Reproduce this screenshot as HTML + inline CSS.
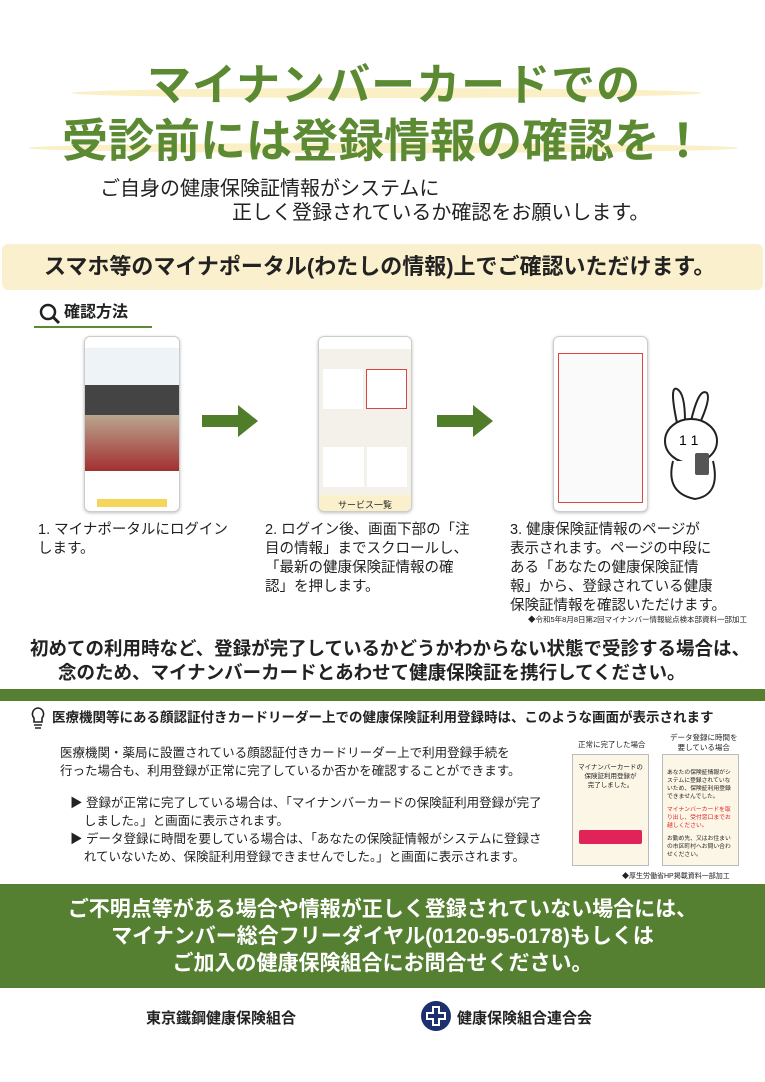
<!DOCTYPE html>
<html><head><meta charset="utf-8"><style>
*{margin:0;padding:0;box-sizing:border-box}
body{width:765px;height:1082px;background:#fff;position:relative;overflow:hidden;font-family:"Liberation Sans","Noto Sans CJK JP",sans-serif;color:#222}
.a{position:absolute;white-space:nowrap}
.g{background:#557f31}
.hl{position:absolute;height:10px;border-radius:50%;background:#fbefc6}
.ph{position:absolute;background:#fff;border:1px solid #ccc;border-radius:6px;box-shadow:0 1px 3px rgba(0,0,0,.25);overflow:hidden}
.arrow{position:absolute;width:56px;height:32px}
.t{font-size:14.5px;line-height:19px;color:#222}
</style></head><body>
<div class="hl" style="left:72px;top:88px;width:630px"></div>
<div class="hl" style="left:28px;top:143px;width:710px"></div>
<div class="a" style="left:147px;top:58px;font-size:44px;font-weight:bold;color:#5b8a32;letter-spacing:1px;line-height:56px">マイナンバーカードでの</div>
<div class="a" style="left:62px;top:112px;font-size:46px;font-weight:bold;color:#5b8a32;line-height:58px">受診前には登録情報の確認を！</div>
<div class="a" style="left:100px;top:176px;font-size:20px;line-height:26px">ご自身の健康保険証情報がシステムに</div>
<div class="a" style="left:232px;top:200px;font-size:20px;line-height:26px">正しく登録されているか確認をお願いします。</div>
<div class="a" style="left:2px;top:244px;width:761px;height:46px;background:#fbf0cd;border-radius:6px"></div>
<div class="a" style="left:44px;top:253px;font-size:22px;font-weight:bold;line-height:28px">スマホ等のマイナポータル(わたしの情報)上でご確認いただけます。</div>
<svg class="a" style="left:38px;top:302px" width="24" height="24"><circle cx="10" cy="10" r="7" fill="none" stroke="#222" stroke-width="2.5"/><line x1="15" y1="15" x2="21" y2="21" stroke="#222" stroke-width="3"/></svg>
<div class="a" style="left:64px;top:302px;font-size:16px;font-weight:bold;line-height:22px">確認方法</div>
<div class="a" style="left:34px;top:326px;width:118px;height:2px;background:#5b8a32"></div>

<div class="ph" style="left:84px;top:336px;width:96px;height:176px">
 <div style="height:12px;border-bottom:1px solid #eee"></div>
 <div style="height:36px;background:#eef3f8"></div>
 <div style="height:30px;background:#444"></div>
 <div style="height:56px;background:linear-gradient(#b9a68f,#a23030)"></div>
 <div style="height:28px;background:#fff"></div>
 <div style="height:8px;background:#f5d65a;margin:0 12px"></div>
</div>
<div class="ph" style="left:318px;top:336px;width:94px;height:176px;background:#f3f1ea">
 <div style="height:12px;background:#fff"></div>
 <div style="margin:20px 4px 0;height:40px;display:flex;gap:3px"><div style="flex:1;background:#fff"></div><div style="flex:1;background:#fff;border:1.5px solid #d44"></div></div>
 <div style="margin:38px 4px 0;height:40px;display:flex;gap:3px"><div style="flex:1;background:#fff"></div><div style="flex:1;background:#fff"></div></div>
 <div style="margin-top:8px;height:20px;background:#faf1cc;font-size:9px;text-align:center;line-height:20px">サービス一覧</div>
</div>
<div class="ph" style="left:553px;top:336px;width:95px;height:176px">
 <div style="height:12px"></div>
 <div style="margin:4px 4px;height:150px;border:1.5px solid #d44;background:#fafafa"></div>
</div>
<svg class="arrow" style="left:202px;top:405px" viewBox="0 0 56 32"><polygon points="0,10 36,10 36,0 56,16 36,32 36,22 0,22" fill="#4f7d2a"/></svg>
<svg class="arrow" style="left:437px;top:405px" viewBox="0 0 56 32"><polygon points="0,10 36,10 36,0 56,16 36,32 36,22 0,22" fill="#4f7d2a"/></svg>
<svg class="a" style="left:655px;top:383px" width="80" height="120"><path d="M22 40 Q14 2 22 6 Q30 10 30 38 M36 38 Q44 4 52 10 Q56 16 44 42" fill="#fff" stroke="#222" stroke-width="2"/><ellipse cx="36" cy="58" rx="26" ry="22" fill="#fff" stroke="#222" stroke-width="2"/><path d="M18 78 Q10 110 40 116 Q66 112 58 78" fill="#fff" stroke="#222" stroke-width="2"/><rect x="40" y="70" width="14" height="22" rx="2" fill="#555"/><text x="24" y="62" font-size="14">1 1</text></svg>

<div class="a t" style="left:38px;top:521px">1. マイナポータルにログイン<br>します。</div>
<div class="a t" style="left:265px;top:521px">2. ログイン後、画面下部の「注<br>目の情報」までスクロールし、<br>「最新の健康保険証情報の確<br>認」を押します。</div>
<div class="a t" style="left:510px;top:521px">3. 健康保険証情報のページが<br>表示されます。ページの中段に<br>ある「あなたの健康保険証情<br>報」から、登録されている健康<br>保険証情報を確認いただけます。</div>
<div class="a" style="left:528px;top:614px;font-size:7.5px">◆令和5年8月8日第2回マイナンバー情報総点検本部資料一部加工</div>
<div class="a" style="left:30px;top:636px;font-size:18.5px;font-weight:bold;line-height:25px">初めての利用時など、登録が完了しているかどうかわからない状態で受診する場合は、</div>
<div class="a" style="left:58px;top:660px;font-size:18.5px;font-weight:bold;line-height:25px">念のため、マイナンバーカードとあわせて健康保険証を携行してください。</div>
<div class="a g" style="left:0;top:689px;width:765px;height:12px"></div>
<svg class="a" style="left:30px;top:706px" width="16" height="24"><path d="M8 2a6 6 0 0 0-4 10v4h8v-4a6 6 0 0 0-4-10z" fill="none" stroke="#222" stroke-width="1.6"/><line x1="4" y1="19" x2="12" y2="19" stroke="#222" stroke-width="1.5"/><line x1="5" y1="22" x2="11" y2="22" stroke="#222" stroke-width="1.5"/></svg>
<div class="a" style="left:52px;top:709px;font-size:13.5px;font-weight:bold;line-height:18px">医療機関等にある顔認証付きカードリーダー上での健康保険証利用登録時は、このような画面が表示されます</div>
<div class="a" style="left:60px;top:744px;font-size:12.5px;line-height:18px">医療機関・薬局に設置されている顔認証付きカードリーダー上で利用登録手続を<br>行った場合も、利用登録が正常に完了しているか否かを確認することができます。</div>
<div class="a" style="left:70px;top:794px;font-size:12.5px;line-height:18px">▶ 登録が正常に完了している場合は、「マイナンバーカードの保険証利用登録が完了<br>&nbsp;&nbsp;&nbsp;&nbsp;しました。」と画面に表示されます。</div>
<div class="a" style="left:70px;top:830px;font-size:12.5px;line-height:18px">▶ データ登録に時間を要している場合は、「あなたの保険証情報がシステムに登録さ<br>&nbsp;&nbsp;&nbsp;&nbsp;れていないため、保険証利用登録できませんでした。」と画面に表示されます。</div>
<div class="a" style="left:578px;top:739px;font-size:7.5px">正常に完了した場合</div>
<div class="a" style="left:670px;top:733px;font-size:7.5px;text-align:center;line-height:10px">データ登録に時間を<br>要している場合</div>
<div class="a" style="left:572px;top:754px;width:77px;height:112px;background:#fcf6e6;border:1.5px solid #bbb"><div style="font-size:6.5px;text-align:center;margin-top:8px;line-height:9px">マイナンバーカードの<br>保険証利用登録が<br>完了しました。</div><div style="margin:40px 6px 0;height:14px;background:#e0245a;border-radius:2px"></div></div>
<div class="a" style="left:662px;top:754px;width:77px;height:112px;background:#fcf6e6;border:1.5px solid #bbb;white-space:normal;font-size:5.8px;line-height:8px;padding:14px 4px 0;overflow:hidden"><div>あなたの保険証情報がシステムに登録されていないため、保険証利用登録できませんでした。</div><div style="color:#e02020;margin-top:5px">マイナンバーカードを取り出し、受付窓口までお越しください。</div><div style="margin-top:5px">お勤め先、又はお住まいの市区町村へお問い合わせください。</div></div>
<div class="a" style="left:622px;top:871px;font-size:7px">◆厚生労働省HP掲載資料一部加工</div>
<div class="a g" style="left:0;top:884px;width:765px;height:104px"></div>
<div class="a" style="left:0;top:896px;width:765px;text-align:center;color:#fff;font-size:21px;font-weight:bold;line-height:27px">ご不明点等がある場合や情報が正しく登録されていない場合には、<br>マイナンバー総合フリーダイヤル(0120-95-0178)もしくは<br>ご加入の健康保険組合にお問合せください。</div>
<div class="a" style="left:146px;top:1007px;font-size:15px;font-weight:bold">東京鐵鋼健康保険組合</div>
<svg class="a" style="left:420px;top:1000px" width="32" height="32"><circle cx="16" cy="16" r="15" fill="#1d2f6e"/><rect x="12" y="6" width="8" height="20" fill="#fff"/><rect x="6" y="12" width="20" height="8" fill="#fff"/><rect x="14" y="8" width="4" height="16" fill="#1d2f6e"/><rect x="8" y="14" width="16" height="4" fill="#1d2f6e"/></svg>
<div class="a" style="left:457px;top:1007px;font-size:15px;font-weight:bold">健康保険組合連合会</div>
</body></html>
